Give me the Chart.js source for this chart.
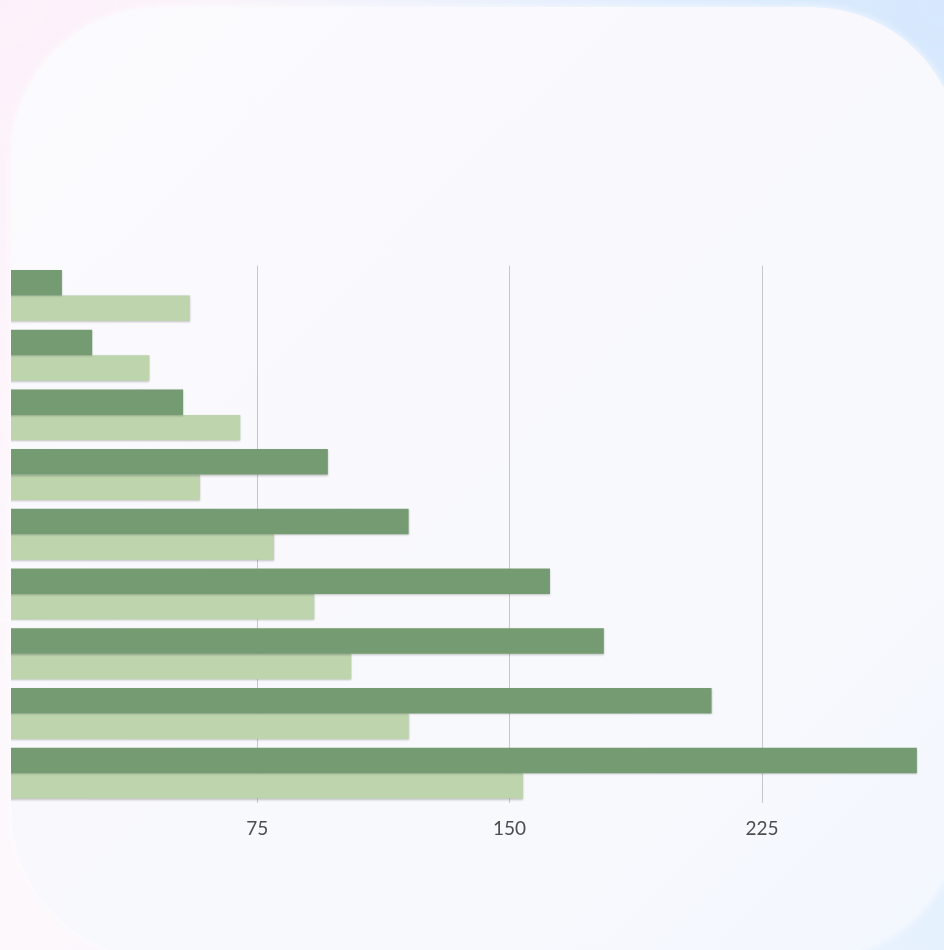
<!DOCTYPE html>
<html>
<head>
<meta charset="utf-8">
<script src="https://cdn.jsdelivr.net/npm/chart.js@4.4.1/dist/chart.umd.min.js"></script>
<style>
  html, body { margin: 0; padding: 0; width: 944px; height: 950px; overflow: hidden; }
  body {
    background:
      radial-gradient(ellipse at 100% 0%, #d6e8fd 0%, rgba(214,232,253,0) 55%),
      radial-gradient(ellipse at 0% 0%, #fcf1fa 0%, rgba(252,241,250,0) 50%),
      linear-gradient(90deg, #fdf8fc 0%, #f4f8fe 50%, #e6f1fe 100%);
    font-family: Lato, sans-serif;
  }
  #card {
    position: absolute; left: 11px; top: 7px; width: 950px; height: 952px;
    border-radius: 150px; overflow: hidden;
    background: linear-gradient(135deg, #fbfbfe 0%, #f9f9fd 45%, #f8f9fd 70%, #f2f7fe 100%);
    box-shadow: 0 0 8px rgba(255,255,255,0.8);
  }
  #wrap { position: absolute; left: -21.1px; top: 240.7px; width: 1039.2px; height: 607.2px; }
</style>
</head>
<body>
<div id="card"><div id="wrap"><canvas id="c"></canvas></div></div>
<script>
const categories = ['A', 'B', 'C', 'D', 'E', 'F', 'G', 'H', 'I'];
const seriesDark = [17, 26, 53, 96, 120, 162, 178, 210, 271];
const seriesLight = [55, 43, 70, 58, 80, 92, 103, 120, 154];
const tickValues = [0, 75, 150, 225, 300];
const tickLabels = ['', '75', '150', '225', ''];

const shadowPlugin = {
  id: 'barShadow',
  beforeDatasetsDraw(chart) {
    const ctx = chart.ctx;
    ctx.save();
    ctx.shadowColor = 'rgba(0,0,0,0.22)';
    ctx.shadowBlur = 2;
    ctx.shadowOffsetX = 0;
    ctx.shadowOffsetY = 1;
  },
  afterDatasetsDraw(chart) { chart.ctx.restore(); }
};

new Chart(document.getElementById('c'), {
  type: 'bar',
  data: {
    labels: categories,
    datasets: [
      { label: 'Series 1', data: seriesDark, backgroundColor: '#749b71', borderWidth: 0 },
      { label: 'Series 2', data: seriesLight, backgroundColor: '#bdd4ad', borderWidth: 0 }
    ]
  },
  options: {
    indexAxis: 'y',
    responsive: true,
    maintainAspectRatio: false,
    animation: false,
    layout: { padding: { top: 17.6, left: 0, right: 0, bottom: 0 } },
    plugins: { legend: { display: false }, tooltip: { enabled: false } },
    datasets: { bar: { categoryPercentage: 0.853, barPercentage: 1.0 } },
    scales: {
      y: { display: false },
      x: {
        min: 0, max: 300,
        border: { display: false },
        grid: { color: 'rgba(0,0,0,0.2)', lineWidth: 1, drawTicks: false },
        afterBuildTicks(axis) { axis.ticks = tickValues.map(v => ({ value: v })); },
        ticks: {
          padding: 14.7,
          color: '#4d4d4d',
          font: { family: 'Lato, sans-serif', size: 19 },
          maxRotation: 0,
          autoSkip: false,
          callback(value) { return tickLabels[tickValues.indexOf(value)]; }
        }
      }
    }
  },
  plugins: [shadowPlugin]
});
</script>
</body>
</html>
